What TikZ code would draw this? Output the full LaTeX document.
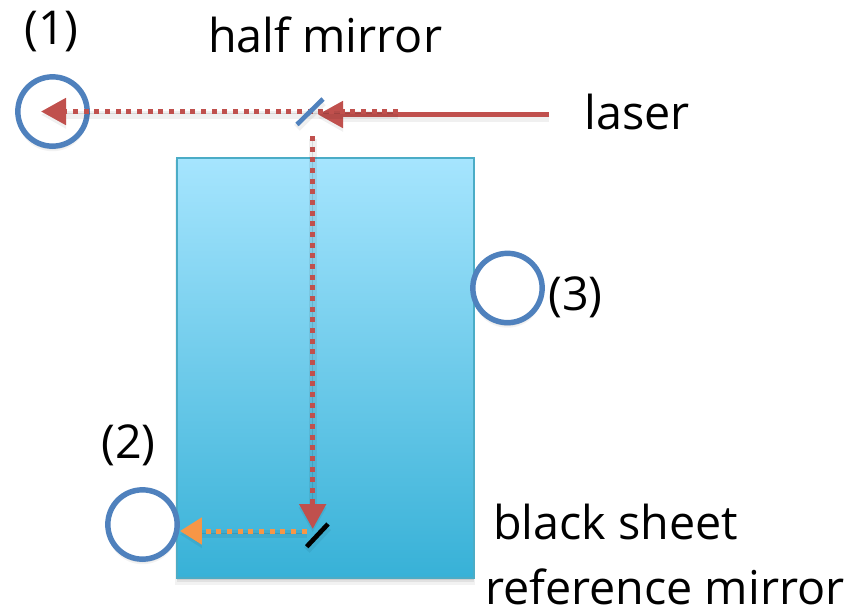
\documentclass[tikz,border=0pt]{standalone}
\usepackage{fontspec}
\setmainfont{Open Sans}
\usetikzlibrary{arrows.meta,shadows}
\definecolor{beamred}{HTML}{C0504D}
\definecolor{beamorange}{HTML}{F79646}
\definecolor{ringblue}{HTML}{4F81BD}
\definecolor{tanktop}{HTML}{A6E5FE}
\definecolor{tankbottom}{HTML}{37B1D7}
\definecolor{tankedge}{HTML}{4BACC6}
\tikzset{
    softshadow/.style={preaction={draw=black, opacity=.10, transform canvas={yshift=-1.5pt}},
        preaction={draw=black, opacity=.06, line width=6pt, transform canvas={yshift=-2.5pt}}},
    layershadow/.style={general shadow={shadow yshift=-3.5pt, shadow scale=1.01, fill=black, opacity=.05},
        general shadow={shadow yshift=-2.5pt, fill=black, opacity=.07},
        general shadow={shadow yshift=-1.2pt, fill=black, opacity=.08}},
    ring/.style={draw=ringblue, line width=4.1pt, circle, fill=white, minimum size=52pt, inner sep=0pt, layershadow},
    label/.style={anchor=base west, inner sep=0pt, font=\fontsize{35}{35}\selectfont},
    beam/.style={beamred, line width=3.75pt, softshadow, -{Triangle[length=18.75pt, width=19.5pt]}},
    dots/.style={line width=3.75pt, dash pattern=on 3.75pt off 4.25pt},
}
\begin{document}
\begin{tikzpicture}[x=0.75pt, y=-0.75pt]
    \useasboundingbox (0,0) rectangle (858,608);
    % tank
    \node (tank) [draw=tankedge, line width=1.5pt, top color=tanktop, bottom color=tankbottom, minimum width=223pt, minimum height=315.5pt, inner sep=0pt, anchor=north west, layershadow] at (175.5,156.5) {};
    % rings
    \node (ring1) [ring] at (52.5,111.5) {};
    \node (ring2) [ring] at (142.5,524.5) {};
    \node (ring3) [ring] at (507.5,288) {};
    % free ends of the beams
    \coordinate (source) at (549,114.5);
    \coordinate (hit) at (318,114.5);
    \coordinate (dotstart) at (398,111.5);
    \coordinate (inner1) at (41,111.5);
    \coordinate (down) at (312.7,136);
    \coordinate (sheet) at (312.7,529);
    \coordinate (back) at (306.7,531);
    % mirrors
    \coordinate (half1) at (297,124.5);
    \coordinate (half2) at (323,99);
    \coordinate (black1) at (306.7,546.7);
    \coordinate (black2) at (328,524);
    % beams
    \draw[beam] (source) -- (hit);
    \draw[beamred, dots] (dotstart) -- (340,111.5);
    \draw[beam, dots] (dotstart) -- (inner1);
    \draw[beam, dots] (down) -- (sheet);
    \draw[beam, dots, beamorange, -{Triangle[length=16.5pt, width=19.5pt]}] (back) -- (ring2.east |- back);
    \draw[ringblue, line width=3.5pt, softshadow] (half1) -- (half2);
    \draw[black, line width=3.5pt, softshadow] (black1) -- (black2);
    % labels
    \node (lab1) [label] at (24,44) {(1)};
    \node (labhalf) [label] at (208,52.5) {half mirror};
    \node (lablaser) [label] at (584,129) {laser};
    \node (lab3) [label] at (548,310) {(3)};
    \node (lab2) [label] at (101,458) {(2)};
    \node (labblack) [label] at (493,539.5) {black sheet};
    \node (labref) [label] at (485,604) {reference mirror};
\end{tikzpicture}
\end{document}
